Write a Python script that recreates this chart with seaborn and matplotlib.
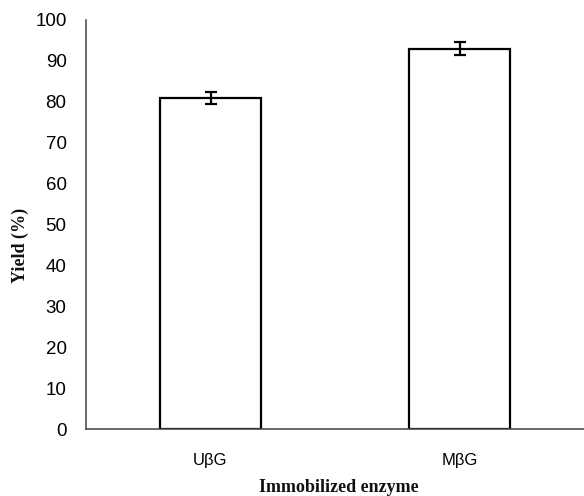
import matplotlib
matplotlib.use("Agg")
import matplotlib.pyplot as plt
import seaborn as sns
import pandas as pd

# Yield of the two immobilized enzyme preparations
enzymes = ["U\u03b2G", "M\u03b2G"]
yield_pct = [81.0, 93.0]
yield_err = [1.5, 1.5]
y_ticks = [0, 10, 20, 30, 40, 50, 60, 70, 80, 90, 100]

sns.set_theme(style="white")
plt.rcParams["font.family"] = ["Liberation Sans", "DejaVu Sans"]

df = pd.DataFrame({"enzyme": enzymes, "yield": yield_pct})

fig = plt.figure(figsize=(5.84, 4.96), dpi=100)
ax = fig.add_axes([86 / 584, 1 - 429 / 496, 1 - 86 / 584, 409 / 496])

sns.barplot(data=df, x="enzyme", y="yield", order=enzymes, color="white",
            edgecolor="black", linewidth=1.6, width=0.405, errorbar=None,
            saturation=1, ax=ax)

# error bars centred on each drawn bar
centers = [p.get_x() + p.get_width() / 2 for p in ax.patches]
ax.errorbar(centers, yield_pct, yerr=yield_err, fmt="none", ecolor="black",
            elinewidth=1.6, capsize=4.5, capthick=1.6, zorder=5)

ax.set_xlim(-0.5, 1.5)
ax.set_ylim(0, 100)
ax.set_yticks(y_ticks)
ax.tick_params(axis="y", length=0, pad=14, labelsize=13.5, colors="black")
ax.tick_params(axis="x", length=0, pad=17, labelsize=12, colors="black")

for side in ("top", "right"):
    ax.spines[side].set_visible(False)
for side in ("left", "bottom"):
    ax.spines[side].set_color("#404040")
    ax.spines[side].set_linewidth(1.1)

ax.set_xlabel("Immobilized enzyme", family=["Liberation Serif"],
              fontweight="bold", fontsize=13, color="#111111")
ax.set_ylabel("Yield (%)", family=["Liberation Serif"],
              fontweight="bold", fontsize=13, color="#111111")
ax.xaxis.set_label_coords(0.508, -0.122)
ax.yaxis.set_label_coords(-0.115, 0.45)

fig.savefig("out.png", dpi=100, facecolor="white")
